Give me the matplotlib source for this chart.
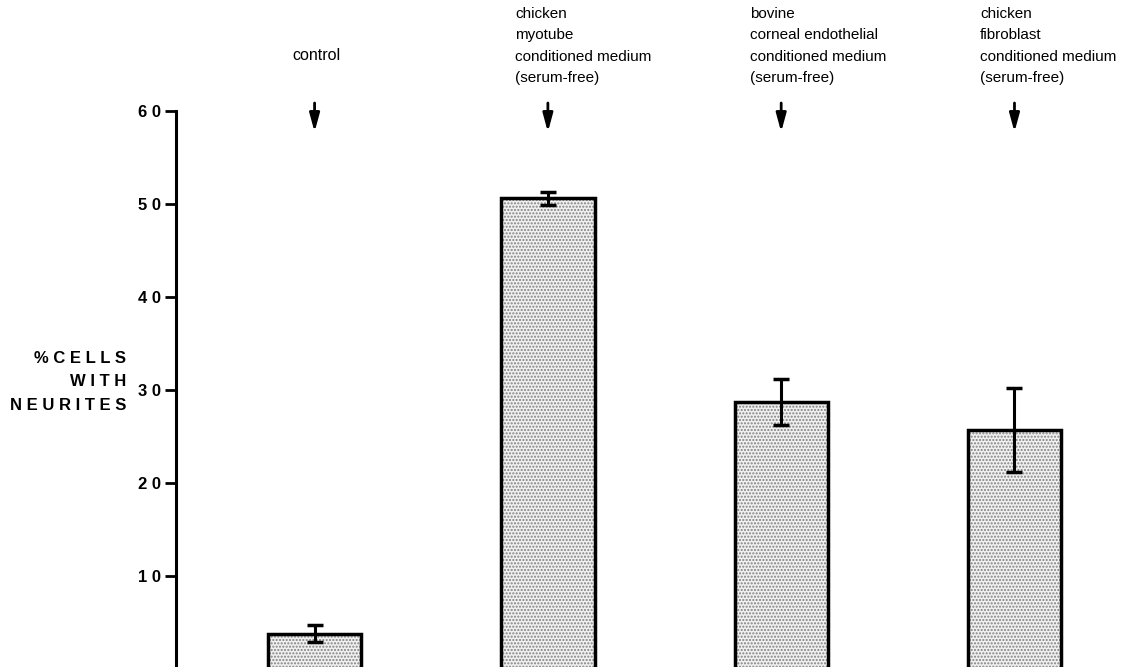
import numpy as np
import matplotlib
matplotlib.use('Agg')
import matplotlib.pyplot as plt

plt.rcParams['font.family'] = ['Liberation Sans', 'DejaVu Sans']
plt.rcParams['hatch.color'] = '#777777'
plt.rcParams['hatch.linewidth'] = 1.0

# bar data
groups = ['control', 'myotube CM', 'corneal endothelial CM', 'fibroblast CM']
means = [3.8, 50.6, 28.7, 25.7]
errs = [0.9, 0.7, 2.5, 4.5]
labels = ['control',
          'chicken\nmyotube\nconditioned medium\n(serum-free)',
          'bovine\ncorneal endothelial\nconditioned medium\n(serum-free)',
          'chicken\nfibroblast\nconditioned medium\n(serum-free)']
yticks = [10, 20, 30, 40, 50, 60]

W, H = 1141, 667
fig = plt.figure(figsize=(W / 100, H / 100), dpi=100)
ax = fig.add_axes([176 / W, 0.0, (1141 - 176) / W, (667 - 111) / H])

x = np.array([0, 1, 2, 3])
# stipple fill, then solid outline
ax.bar(x, means, width=0.4, color='#f0f0f0', hatch='.....', edgecolor='#808080', linewidth=0)
ax.bar(x, means, width=0.4, color='none', edgecolor='black', linewidth=2.5)
ax.errorbar(x, means, yerr=errs, fmt='none', ecolor='black', elinewidth=2.2, capsize=6, capthick=2.5)

ax.set_xlim(-0.594, -0.594 + 965 / 233.3)
ax.set_ylim(0.2, 60)
ax.spines['top'].set_visible(False)
ax.spines['right'].set_visible(False)
ax.spines['bottom'].set_visible(False)
ax.spines['left'].set_linewidth(2.2)
ax.spines['left'].set_bounds(0.2, 60)
ax.set_xticks([])
ax.set_yticks(yticks)
ax.set_yticklabels([' '.join(str(t)) for t in yticks], fontweight='bold', fontsize=12)
ax.tick_params(axis='y', length=8, width=2, pad=3)

fig.text(126 / W, 1 - 358 / H, '% C E L L S', ha='right', va='center', fontsize=12, fontweight='bold')
fig.text(126 / W, 1 - 381 / H, 'W I T H', ha='right', va='center', fontsize=12, fontweight='bold')
fig.text(126 / W, 1 - 405 / H, 'N E U R I T E S', ha='right', va='center', fontsize=12, fontweight='bold')

# annotations with arrows
text_x = [316, 515, 750, 980]
for i, lab in enumerate(labels):
    xc = ax.transData.transform((x[i], 0))[0]
    if i == 0:
        fig.text(text_x[i] / W, 1 - 55 / H, lab, ha='center', va='center', fontsize=11.5)
    else:
        fig.text(text_x[i] / W, 1 - 7 / H, lab, ha='left', va='top', fontsize=11, linespacing=1.67)
    ax.annotate('', xy=(xc / W, 1 - 132 / H), xytext=(xc / W, 1 - 103 / H),
                xycoords='figure fraction', textcoords='figure fraction',
                arrowprops=dict(arrowstyle='-|>,head_length=1.1,head_width=0.3',
                                color='black', lw=2.0, mutation_scale=10,
                                shrinkA=0, shrinkB=0))

fig.savefig('out.png', dpi=100)
